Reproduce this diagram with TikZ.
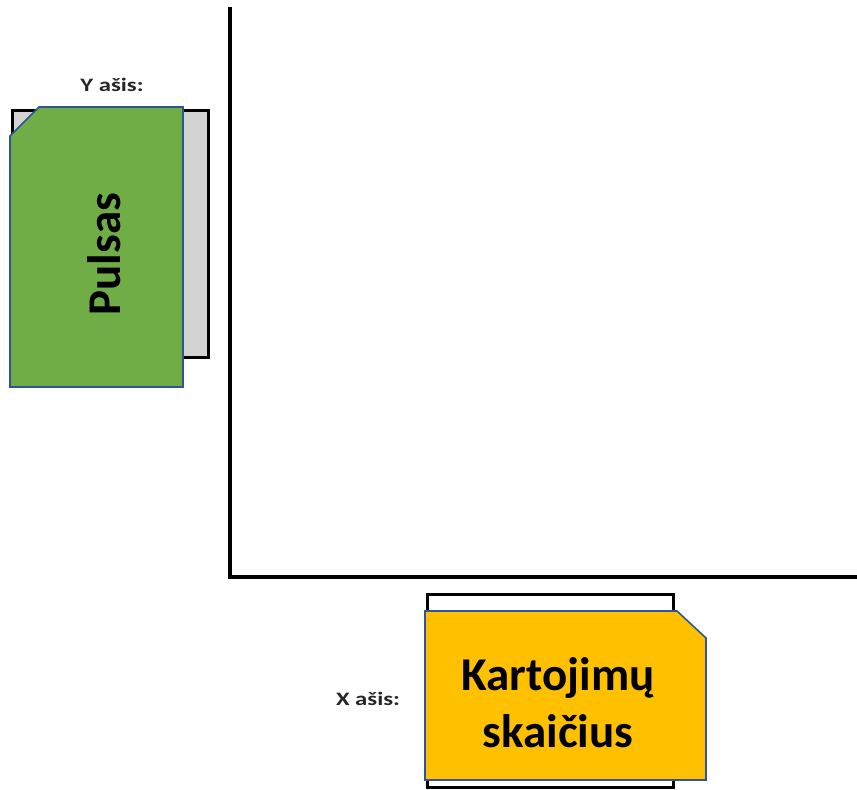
\documentclass[tikz,border=0pt]{standalone}
\usepackage{fontspec}
\usepackage{graphicx}
\setmainfont{Carlito}
\definecolor{cardgreen}{HTML}{70AD47}
\definecolor{cardorange}{HTML}{FFC000}
\definecolor{cardedge}{HTML}{2F5597}
\definecolor{slotgray}{HTML}{D2D2D2}
\begin{document}
\begin{tikzpicture}[x=1pt,y=-1pt,
  axisline/.style={line width=3.5pt},
  slot/.style={draw=black,line width=3pt},
  card/.style={draw=cardedge,line width=1.6pt,line join=miter},
  axislabel/.style={font=\bfseries\fontsize{19}{22}\selectfont,text=black!85,inner sep=0pt},
  cardtext/.style={font=\bfseries\fontsize{47}{57}\selectfont,align=center,inner sep=0pt}]
\useasboundingbox (0,0) rectangle (857,790);
% axes
\coordinate (top) at (230,7);
\coordinate (origin) at (230,577);
\coordinate (right) at (857,577);
\draw[axisline,line cap=butt,line join=miter] (top) -- (origin) -- (right);
% Y axis slot and card
\draw[slot,fill=slotgray] (12,110) rectangle (208,357);
\draw[card,fill=cardgreen] (39,107) -- (183,107) -- (183,387) -- (10,387) -- (10,136) -- cycle;
\node[cardtext,rotate=90] (pulsas) at (104,254) {Pulsas};
\node[axislabel] (ylabel) at (112,85) {\scalebox{1.3}[1]{Y ašis:}};
% X axis slot and card
\draw[slot,fill=white] (427,594) rectangle (673,787);
\draw[card,fill=cardorange] (425,611) -- (677,611) -- (706,638) -- (706,780) -- (425,780) -- cycle;
\node[cardtext] (kart) at (558,703) {Kartojimų\\skaičius};
\node[axislabel] (xlabel) at (368,699) {\scalebox{1.3}[1]{X ašis:}};
\end{tikzpicture}
\end{document}
